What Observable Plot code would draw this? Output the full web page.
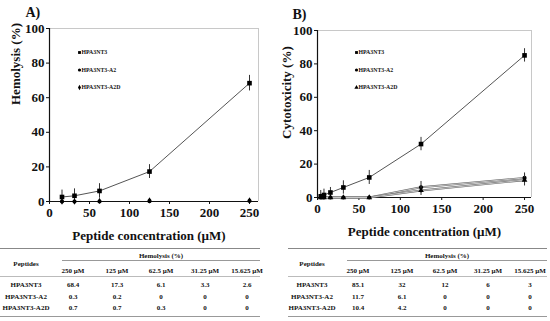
<!DOCTYPE html>
<html>
<head>
<meta charset="utf-8">
<script src="https://cdn.jsdelivr.net/npm/d3@7"></script>
<script src="https://cdn.jsdelivr.net/npm/@observablehq/plot@0.6"></script>
<style>
  html, body { margin: 0; padding: 0; background: #fff; }
  #root { position: relative; width: 550px; height: 321px; overflow: hidden; font-family: "Liberation Serif", "Times New Roman", serif; }
  .abs { position: absolute; }
  .cell { position: absolute; transform: translate(-50%, -50%); white-space: nowrap; font-weight: bold; font-size: 7px; line-height: 1; color: #111; }
  .rule { position: absolute; background: #888; }
</style>
</head>
<body>
<div id="root"></div>
<script>
// ---------- data ----------
const peptides = ["HPA3NT3", "HPA3NT3-A2", "HPA3NT3-A2D"];
const tableConc = [250, 125, 62.5, 31.25, 15.625];
const tableConcLabels = ["250 µM", "125 µM", "62.5 µM", "31.25 µM", "15.625 µM"];

// Panel A: hemolysis (%)
const hemoNT3 = [68.4, 17.3, 6.1, 3.3, 2.6];
const hemoA2 = [0.3, 0.2, 0, 0, 0];
const hemoA2D = [0.7, 0.7, 0.3, 0, 0];
const hemoErrNT3 = [4.5, 4, 4.2, 4, 4];

// Panel B: cytotoxicity (%)
const cytoConc = [250, 125, 62.5, 31.25, 15.625, 7.8125, 3.90625];
const cytoNT3 = [85.1, 32, 12, 6, 3, 1.5, 0.7];
const cytoA2 = [11.7, 6.1, 0, 0, 0, 0, 0];
const cytoA2D = [10.4, 4.2, 0, 0, 0, 0, 0];
const cytoErrNT3 = [4, 4, 4.2, 4, 3, 3.5, 3.5];
const cytoErrA2 = [3, 3.5, 0, 0, 0, 0, 0];
const cytoErrA2D = [3.5, 3, 0, 0, 0, 0, 0];

const xTicks = [0, 50, 100, 150, 200, 250];
const yTicks = [0, 20, 40, 60, 80, 100];

// ---------- helpers ----------
const root = document.getElementById("root");
const FONT = "Liberation Serif, Times New Roman, serif";

function rows(conc, vals, errs) {
  return conc.map((c, i) => ({ c, v: vals[i], e: errs ? errs[i] : 0 }));
}

function panel(opts) {
  const { xmax, ml, mr, mt, mb, height, series, ylabel, ylabelDx, ylabelDy, tag, legendDx, legendDy, legendStep } = opts;
  const marks = [
    Plot.ruleX([xmax], { stroke: "#c8c8c8", strokeWidth: 1 }),
    Plot.ruleY([100], { stroke: "#c8c8c8", strokeWidth: 1 }),
    Plot.axisY({ ticks: yTicks, tickSize: 3, tickPadding: 2, label: null, fontSize: 13, fontWeight: "bold" }),
    Plot.axisX({ ticks: xTicks, tickSize: 3, tickPadding: 3, label: null, fontSize: 13, fontWeight: "bold" }),
    Plot.ruleX([0], { stroke: "#111", strokeWidth: 1.2 }),
    Plot.ruleY([0], { stroke: "#111", strokeWidth: 1.2 })
  ];
  for (const s of series) {
    if (s.doubleLine) {
      marks.push(Plot.line(s.data, { x: "c", y: "v", stroke: "#666", strokeWidth: 2 }));
      marks.push(Plot.line(s.data, { x: "c", y: "v", stroke: "#f2f2f2", strokeWidth: 0.7 }));
    } else if (s.line) {
      marks.push(Plot.line(s.data, { x: "c", y: "v", stroke: "#555", strokeWidth: 1 }));
    }
  }
  for (const s of series) {
    marks.push(Plot.ruleX(s.data.filter(d => d.e > 0), {
      x: "c", y1: d => Math.max(0, d.v - d.e), y2: d => d.v + d.e, stroke: "#333", strokeWidth: 1
    }));
    marks.push(Plot.dot(s.data, { x: "c", y: "v", symbol: s.symbol, r: s.r, fill: "#000", stroke: "none" }));
  }
  // legend inside the frame
  series.forEach((s, i) => {
    marks.push(Plot.dot([s.name], { frameAnchor: "top-left", dx: legendDx, dy: legendDy + i * legendStep, symbol: s.symbol, r: 1.6, fill: "#000" }));
    marks.push(Plot.text([s.name], { frameAnchor: "top-left", dx: legendDx + 2, dy: legendDy + i * legendStep, text: d => d, textAnchor: "start", lineAnchor: "middle", fontSize: 5.8, fontWeight: "bold" }));
  });
  // axis titles and panel tag
  marks.push(Plot.text([ylabel], { frameAnchor: "left", dx: ylabelDx, dy: ylabelDy, rotate: -90, text: d => d, fontSize: 13, fontWeight: "bold", lineAnchor: "middle" }));
  marks.push(Plot.text(["Peptide concentration (µM)"], { frameAnchor: "bottom", dx: opts.xlabelDx, dy: 34, text: d => d, fontSize: 13, fontWeight: "bold", lineAnchor: "middle" }));
  marks.push(Plot.text([tag], { frameAnchor: "top-left", dx: opts.tagDx, dy: -16, text: d => d, fontSize: 14, fontWeight: "bold", textAnchor: "start", lineAnchor: "middle" }));

  return Plot.plot({
    width: 275, height,
    marginLeft: ml, marginRight: mr, marginTop: mt, marginBottom: mb,
    style: { fontFamily: FONT, fontWeight: "bold", color: "#111", background: "transparent", overflow: "visible" },
    x: { domain: [0, xmax] },
    y: { domain: [0, 100] },
    marks
  });
}

function table(opts) {
  const { left, right, subLeft, labelX, colX, values } = opts;
  const add = (cls, css, text) => {
    const d = document.createElement("div");
    d.className = cls;
    Object.assign(d.style, css);
    if (text != null) d.textContent = text;
    root.appendChild(d);
  };
  add("rule", { left: left + "px", width: (right - left) + "px", top: "247.5px", height: "1.5px", background: "#888" });
  add("rule", { left: subLeft + "px", width: (right - subLeft) + "px", top: "259.5px", height: "0.8px", background: "#999" });
  add("rule", { left: left + "px", width: (right - left) + "px", top: "276px", height: "0.6px", background: "#bbb" });
  add("rule", { left: left + "px", width: (right - left) + "px", top: "315.5px", height: "1.2px", background: "#999" });
  add("cell", { left: (subLeft + right) / 2 + "px", top: "255.5px" }, "Hemolysis (%)");
  add("cell", { left: labelX + "px", top: "263.5px" }, "Peptides");
  tableConcLabels.forEach((t, j) => add("cell", { left: colX[j] + "px", top: "271px" }, t));
  const rowY = [284.5, 296.5, 308];
  peptides.forEach((p, i) => {
    add("cell", { left: labelX + "px", top: rowY[i] + "px" }, p);
    values[i].forEach((v, j) => add("cell", { left: colX[j] + "px", top: rowY[i] + "px" }, String(v)));
  });
}

// ---------- panel A ----------
const chartA = panel({
  xmax: 261.25, ml: 49, mr: 17, mt: 28, mb: 21, height: 222,
  ylabel: "Hemolysis (%)", ylabelDx: -34, ylabelDy: -10, xlabelDx: -5, tag: "A)", tagDx: -24,
  legendDx: 30, legendDy: 24, legendStep: 17.5,
  series: [
    { name: "HPA3NT3", data: rows(tableConc, hemoNT3, hemoErrNT3), symbol: "square", r: 2.6, line: true },
    { name: "HPA3NT3-A2", data: rows(tableConc, hemoA2), symbol: "circle", r: 2.1, line: false },
    { name: "HPA3NT3-A2D", data: rows(tableConc, hemoA2D), symbol: "diamond", r: 1.9, line: false }
  ]
});
chartA.classList.add("abs");
chartA.style.left = "0px"; chartA.style.top = "0px";
root.appendChild(chartA);

// ---------- panel B ----------
const chartB = panel({
  xmax: 258.4, ml: 42, mr: 19, mt: 30, mb: 25, height: 222,
  ylabel: "Cytotoxicity (%)", ylabelDx: -30.5, ylabelDy: 25, xlabelDx: 0, tag: "B)", tagDx: -25,
  legendDx: 39, legendDy: 22, legendStep: 17.5,
  series: [
    { name: "HPA3NT3", data: rows(cytoConc, cytoNT3, cytoErrNT3), symbol: "square", r: 2.6, line: true },
    { name: "HPA3NT3-A2", data: rows(cytoConc, cytoA2, cytoErrA2), symbol: "circle", r: 2.1, doubleLine: true },
    { name: "HPA3NT3-A2D", data: rows(cytoConc, cytoA2D, cytoErrA2D), symbol: "triangle", r: 2.1, doubleLine: true }
  ]
});
chartB.classList.add("abs");
chartB.style.left = "275px"; chartB.style.top = "0px";
root.appendChild(chartB);

// ---------- tables ----------
table({
  left: 0, right: 260, subLeft: 62, labelX: 26, colX: [73, 117, 161, 205, 247],
  values: [hemoNT3, hemoA2, hemoA2D]
});
table({
  left: 288, right: 547, subLeft: 347, labelX: 312, colX: [358, 402, 445, 488, 530],
  values: [cytoNT3.slice(0, 5), cytoA2.slice(0, 5), cytoA2D.slice(0, 5)]
});
</script>
</body>
</html>
